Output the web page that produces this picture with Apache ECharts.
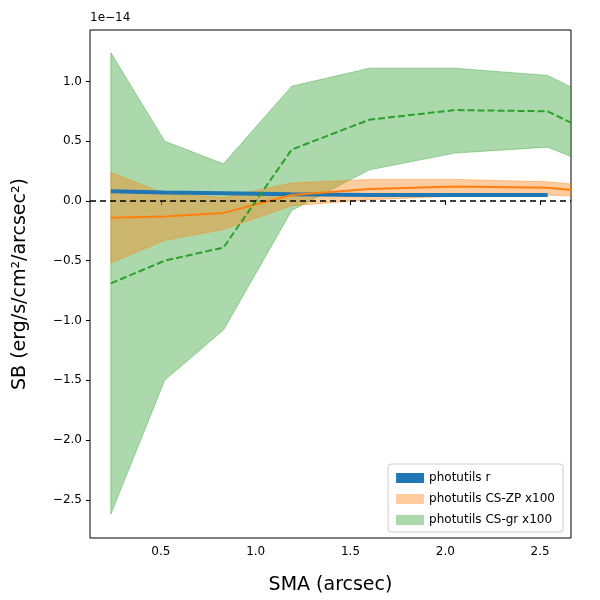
<!DOCTYPE html>
<html><head><meta charset="utf-8">
<script src="https://cdn.jsdelivr.net/npm/echarts@6/dist/echarts.min.js"></script>
<style>html,body{margin:0;padding:0;background:#fff}#c{width:600px;height:600px}</style>
</head><body><div id="c"></div>
<script>
const sma = [0.236, 0.52, 0.83, 1.19, 1.60, 2.05, 2.54, 2.68];
const rLine = [0.08, 0.07, 0.065, 0.055, 0.05, 0.05, 0.05];
const zpLine = [-0.14, -0.13, -0.10, 0.05, 0.10, 0.12, 0.11, 0.09];
const zpUpper = [0.24, 0.06, 0.03, 0.15, 0.18, 0.18, 0.16, 0.14];
const zpLower = [-0.52, -0.33, -0.24, -0.04, 0.01, 0.04, 0.05, 0.04];
const grLine = [-0.69, -0.50, -0.39, 0.43, 0.68, 0.76, 0.75, 0.64];
const grUpper = [1.24, 0.50, 0.31, 0.96, 1.11, 1.11, 1.05, 0.94];
const grLower = [-2.62, -1.50, -1.08, -0.08, 0.26, 0.40, 0.45, 0.36];
const xTicks = [0.5, 1.0, 1.5, 2.0, 2.5];
const yTicks = [-2.5, -2.0, -1.5, -1.0, -0.5, 0.0, 0.5, 1.0];

function pairs(ys){ return ys.map((y,i)=>[sma[i], y]); }
function band(name, up, lo, color, opacity){
  return {
    name, type:'custom', clip:true, z:1,
    itemStyle:{color, opacity},
    data:[[sma[0], up[0]]],
    renderItem:(params, api)=>{
      const pts=[];
      for(let i=0;i<sma.length;i++) pts.push(api.coord([sma[i], up[i]]));
      for(let i=sma.length-1;i>=0;i--) pts.push(api.coord([sma[i], lo[i]]));
      return {type:'polygon', shape:{points:pts}, style:{fill:color, opacity, stroke:color, lineWidth:1}};
    }
  };
}
const fmt = v => (v<0?'\u2212':'') + Math.abs(v).toFixed(1);
const chart = echarts.init(document.getElementById('c'));
chart.setOption({
  animation:false,
  grid:{left:90, right:29, top:30, bottom:60, show:true, borderColor:'#000', borderWidth:1},
  xAxis:{type:'value', min:0.126, max:2.663,
    name:'SMA (arcsec)', nameLocation:'middle', nameGap:38, nameTextStyle:{fontSize:19, color:'#000', fontFamily:'DejaVu Sans'},
    axisLine:{show:false}, splitLine:{show:false},
    axisTick:{show:true, inside:false, length:4, customValues:xTicks, lineStyle:{color:'#000'}},
    axisLabel:{customValues:xTicks, formatter:v=>v.toFixed(1), color:'#000', fontSize:12, fontFamily:'DejaVu Sans'}},
  yAxis:{type:'value', min:-2.82, max:1.43,
    name:'SB (erg/s/cm\u00b2/arcsec\u00b2)', nameLocation:'middle', nameGap:60, nameTextStyle:{fontSize:19, color:'#000', fontFamily:'DejaVu Sans'},
    axisLine:{show:false}, splitLine:{show:false},
    axisTick:{show:true, inside:false, length:4, customValues:yTicks, lineStyle:{color:'#000'}},
    axisLabel:{customValues:yTicks, formatter:fmt, color:'#000', fontSize:12, fontFamily:'DejaVu Sans'}},
  legend:{right:37, bottom:68, orient:'vertical', itemWidth:28, itemHeight:10, itemGap:9,
    backgroundColor:'#fff', borderColor:'#ccc', borderWidth:1, borderRadius:3, padding:[8,8,6,8],
    textStyle:{fontSize:12, color:'#000', fontFamily:'DejaVu Sans'},
    data:[{name:'photutils r', icon:'rect'},{name:'photutils CS-ZP x100', icon:'rect'},{name:'photutils CS-gr x100', icon:'rect'}]},
  graphic:[{type:'text', left:90, top:12, style:{text:'1e\u221214', fontSize:12, fill:'#000', fontFamily:'DejaVu Sans'}}],
  series:[
    band('photutils CS-gr x100', grUpper, grLower, '#2ca02c', 0.4),
    band('photutils CS-ZP x100', zpUpper, zpLower, '#ff7f0e', 0.4),
    {name:'photutils r', type:'line', data:pairs(rLine), symbol:'none', z:3, itemStyle:{color:'#1f77b4'},
      lineStyle:{color:'#1f77b4', width:4},
      markLine:{silent:true, symbol:'none', label:{show:false}, lineStyle:{color:'#000', type:[6,4], width:1.5}, data:[{yAxis:0}]}},
    {name:'zpline', type:'line', data:pairs(zpLine), symbol:'none', z:4, lineStyle:{color:'#ff7f0e', width:2}},
    {name:'grline', type:'line', data:pairs(grLine), symbol:'none', z:4, lineStyle:{color:'#2ca02c', width:2, type:[7,3]}}
  ]
});
</script></body></html>
